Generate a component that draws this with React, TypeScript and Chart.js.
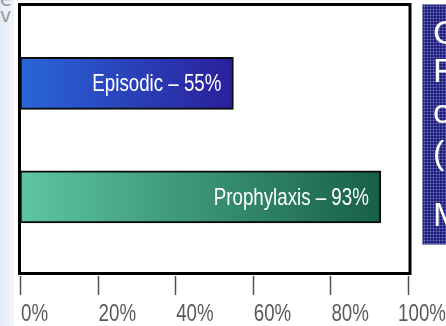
import { useEffect, useRef } from "react";
import { Chart, registerables } from "chart.js";

Chart.register(...registerables);

// Share of patients by treatment regimen
const CATEGORIES = ["Episodic", "Prophylaxis"];
const VALUES = [55, 93];
const TICK_VALUES = [0, 20, 40, 60, 80, 100];
const TICK_LABELS = ["0%", "20%", "40%", "60%", "80%", "100%"];
const SIDE_LINES = ["C", "R", "o", "(C", "M"];
const SIDE_TOPS = [10, 48, 89, 130, 192];

const BAR_GRADIENTS = [
  ["#2a66d8", "#2a1f9c"],
  ["#5ec6a0", "#176048"],
];
const FONT = '"Liberation Sans", Arial, sans-serif';
const SQUEEZE = 0.78;

const barGradient = (c: any) => {
  const i = c.dataIndex ?? 0;
  const chart = c.chart;
  const xs = chart.scales?.x;
  if (!chart.chartArea || !xs) return BAR_GRADIENTS[i][0];
  const g = chart.ctx.createLinearGradient(
    xs.getPixelForValue(0), 0, xs.getPixelForValue(VALUES[i]), 0
  );
  g.addColorStop(0, BAR_GRADIENTS[i][0]);
  g.addColorStop(1, BAR_GRADIENTS[i][1]);
  return g;
};

// condensed text: draw horizontally squeezed around the anchor point
const narrowText = (ctx: CanvasRenderingContext2D, text: string, x: number, y: number) => {
  ctx.save();
  ctx.translate(x, y);
  ctx.scale(SQUEEZE, 1);
  ctx.fillText(text, 0, 0);
  ctx.restore();
};

// Frame, axis ticks, tick labels and in-bar value labels
const decorations = {
  id: "decorations",
  afterDatasetsDraw(chart: any) {
    const { ctx, chartArea: a, scales } = chart;
    const xs = scales.x;
    ctx.save();

    // plot frame
    ctx.strokeStyle = "#000";
    ctx.lineWidth = 3;
    ctx.strokeRect(a.left - 0.5, a.top - 0.5, a.right + 2 - (a.left - 0.5), a.bottom - a.top + 1);

    // tick marks below the frame
    ctx.strokeStyle = "#505050";
    ctx.lineWidth = 1.5;
    TICK_VALUES.forEach((v) => {
      const px = Math.round(xs.getPixelForValue(v)) + 0.5;
      ctx.beginPath();
      ctx.moveTo(px, a.bottom + 3);
      ctx.lineTo(px, a.bottom + 22);
      ctx.stroke();
    });

    // tick labels
    ctx.fillStyle = "#5a5a5a";
    ctx.font = `24px ${FONT}`;
    ctx.textBaseline = "alphabetic";
    TICK_VALUES.forEach((v, i) => {
      const px = xs.getPixelForValue(v);
      const last = i === TICK_VALUES.length - 1;
      ctx.textAlign = last ? "right" : "left";
      narrowText(ctx, TICK_LABELS[i], last ? chart.width : px + 1, a.bottom + 48);
    });

    // value labels inside bars
    ctx.fillStyle = "#ffffff";
    ctx.textAlign = "right";
    ctx.textBaseline = "middle";
    ctx.font = `24px ${FONT}`;
    chart.getDatasetMeta(0).data.forEach((el: any, i: number) => {
      narrowText(ctx, `${CATEGORIES[i]} – ${VALUES[i]}%`, el.x - 12, el.y + 1);
    });
    ctx.restore();
  },
};

export default function App() {
  const ref = useRef<HTMLCanvasElement>(null);

  useEffect(() => {
    if (!ref.current) return;
    const chart = new Chart(ref.current, {
      type: "bar",
      data: {
        datasets: [
          {
            data: VALUES.map((v, i) => ({ x: v, y: i })),
            backgroundColor: barGradient,
            borderColor: "#0a0a0a",
            borderWidth: 2,
            borderSkipped: false,
            barThickness: 52,
          },
        ],
      },
      options: {
        indexAxis: "y",
        responsive: false,
        animation: false,
        layout: { padding: { left: 20, right: 38, top: 5, bottom: 53 } },
        plugins: { legend: { display: false }, tooltip: { enabled: false } },
        scales: {
          x: { type: "linear", min: 0, max: 100, display: false },
          y: {
            type: "linear",
            min: -0.69,
            max: 1.67,
            reverse: true,
            offset: false,
            display: false,
          },
        },
      },
      plugins: [decorations],
    });
    return () => chart.destroy();
  }, []);

  return (
    <div
      style={{
        position: "absolute",
        left: 0,
        top: 0,
        width: 446,
        height: 326,
        overflow: "hidden",
        background: "#ffffff",
      }}
    >
      <div
        style={{
          position: "absolute",
          left: 0,
          top: 0,
          width: 14,
          height: 326,
          background: "linear-gradient(to right, #e2ecf7, #f1f6fb)",
        }}
      />
      <div
        style={{
          position: "absolute",
          left: 0,
          top: -9,
          fontFamily: '"DejaVu Sans", sans-serif',
          fontSize: 19,
          lineHeight: "16px",
          color: "#9a9a9a",
        }}
      >
        e
        <br />v
      </div>
      <canvas ref={ref} width={446} height={326} style={{ position: "absolute", left: 0, top: 0 }} />
      <div
        style={{
          position: "absolute",
          left: 423,
          top: 5,
          width: 40,
          height: 239,
          overflow: "hidden",
          background:
            "radial-gradient(circle, rgba(160,160,225,0.6) 0.7px, transparent 1.3px) 0 0 / 3px 3px, #1c1c7a",
          boxShadow: "0 0 0 1px #8c8cb8",
          color: "#ffffff",
          fontFamily: '"Liberation Sans", Arial, sans-serif',
          fontSize: 34,
          lineHeight: "34px",
        }}
      >
        {SIDE_LINES.map((t, i) => (
          <div key={i} style={{ position: "absolute", left: 10, top: SIDE_TOPS[i], whiteSpace: "nowrap" }}>
            {t}
          </div>
        ))}
      </div>
    </div>
  );
}
